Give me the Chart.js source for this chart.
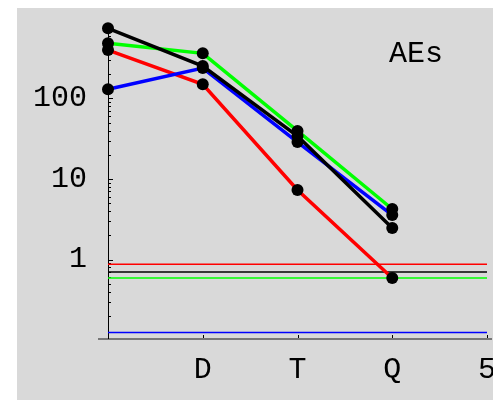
<!DOCTYPE html>
<html>
<head>
<meta charset="utf-8">
<script src="https://cdn.jsdelivr.net/npm/chart.js@4/dist/chart.umd.min.js"></script>
<style>
  html, body { margin: 0; padding: 0; background: #fff; }
  #wrap { position: absolute; left: 17px; top: 8px; width: 476px; height: 392px; background: #d9d9d9; }
</style>
</head>
<body>
<div id="wrap"><canvas id="c" width="476" height="392"></canvas></div>
<script>
// data
const stages = [1, 2, 3, 4];
const xTickValues = [2, 3, 4, 5];
const xTickLabels = ["D", "T", "Q", "5"];
const redValues = [400, 150, 7.3, 0.59];
const blueValues = [130, 239, 28.8, 3.57];
const greenValues = [485, 364, 39.5, 4.24];
const blackValues = [745, 253, 34.2, 2.46];
const refSpan = [1, 5];
const refRed = 0.871;
const refBlack = 0.70;
const refGreen = 0.589;
const refBlue = 0.124;
const yLabelValues = [1, 10, 100];
const panelLabel = "AEs";

const Y_MIN = 0.103;
const Y_MAX = 842;
const FONT = "'Liberation Mono', 'Courier New', monospace";

const toPoints = (xs, ys) => xs.map((x, i) => ({ x: x, y: ys[i] }));

function series(values, color, order) {
  return {
    data: toPoints(stages, values),
    borderColor: color,
    borderWidth: 3.5,
    pointRadius: 6,
    pointBackgroundColor: "#000",
    pointBorderWidth: 0,
    order: order,
  };
}

function refLine(value, color) {
  return {
    data: toPoints(refSpan, [value, value]),
    borderColor: color,
    borderWidth: 1.5,
    pointRadius: 0,
    order: 10,
  };
}

// log ticks 1..9 per decade, only inside the range
function logTicks() {
  const out = [];
  for (let e = -1; e <= 3; e++) {
    for (let m = 1; m <= 9; m++) {
      const v = m * Math.pow(10, e);
      if (v >= Y_MIN && v <= Y_MAX) out.push({ value: v });
    }
  }
  return out;
}

// axes drawn Mathematica-style: ticks point inward, x axis grey
const axesPlugin = {
  id: "axes",
  beforeDatasetsDraw(chart) {
    const { ctx, chartArea, scales } = chart;
    const x = scales.x, y = scales.y;
    ctx.save();
    ctx.strokeStyle = "#777";
    ctx.lineWidth = 2;
    ctx.beginPath();
    ctx.moveTo(chartArea.left - 10, chartArea.bottom);
    ctx.lineTo(chartArea.right + 5, chartArea.bottom);
    ctx.stroke();

    ctx.strokeStyle = "#000";
    ctx.lineWidth = 1;
    ctx.beginPath();
    ctx.moveTo(chartArea.left + 0.5, chartArea.top);
    ctx.lineTo(chartArea.left + 0.5, chartArea.bottom);
    ctx.stroke();

    y.ticks.forEach((t) => {
      const py = Math.round(y.getPixelForValue(t.value)) + 0.5;
      const major = yLabelValues.includes(t.value);
      ctx.beginPath();
      ctx.moveTo(chartArea.left, py);
      ctx.lineTo(chartArea.left + (major ? 5 : 3), py);
      ctx.stroke();
    });
    x.ticks.forEach((t) => {
      const px = Math.round(x.getPixelForValue(t.value)) + 0.5;
      ctx.beginPath();
      ctx.moveTo(px, chartArea.bottom - 1);
      ctx.lineTo(px, chartArea.bottom - 4);
      ctx.stroke();
    });
    ctx.restore();
  },
  afterDatasetsDraw(chart) {
    const { ctx, scales } = chart;
    ctx.save();
    ctx.fillStyle = "#000";
    ctx.font = "30px " + FONT;
    ctx.textAlign = "center";
    ctx.textBaseline = "middle";
    ctx.fillText(panelLabel, scales.x.getPixelForValue(4.25), scales.y.getPixelForValue(360));
    ctx.restore();
  },
};

new Chart(document.getElementById("c"), {
  type: "line",
  data: {
    datasets: [
      refLine(refRed, "#ff0000"),
      refLine(refBlack, "#000000"),
      refLine(refGreen, "#00ff00"),
      refLine(refBlue, "#0000ff"),
      series(redValues, "#ff0000", 4),
      series(blueValues, "#0000ff", 3),
      series(greenValues, "#00ff00", 2),
      series(blackValues, "#000000", 1),
    ],
  },
  options: {
    responsive: false,
    animation: false,
    layout: { padding: { top: 16, right: 5, left: 0, bottom: 0 } },
    plugins: { legend: { display: false }, tooltip: { enabled: false } },
    elements: { line: { tension: 0 } },
    clip: false,
    scales: {
      x: {
        type: "linear",
        min: 1,
        max: 5,
        grid: { display: false, drawTicks: false },
        border: { display: false },
        afterBuildTicks: (s) => { s.ticks = xTickValues.map((v) => ({ value: v })); },
        afterFit: (s) => { s.height = 61; s.paddingLeft = 0; s.paddingRight = 0; },
        ticks: {
          autoSkip: false,
          maxRotation: 0,
          padding: 13,
          color: "#000",
          font: { family: FONT, size: 30 },
          callback: (v) => xTickLabels[xTickValues.indexOf(v)],
        },
      },
      y: {
        type: "logarithmic",
        min: Y_MIN,
        max: Y_MAX,
        grid: { display: false, drawTicks: false },
        border: { display: false },
        afterBuildTicks: (s) => { s.ticks = logTicks(); },
        afterFit: (s) => { s.width = 91; s.paddingTop = 0; s.paddingBottom = 0; },
        ticks: {
          autoSkip: false,
          padding: 21,
          color: "#000",
          font: { family: FONT, size: 30 },
          callback: (v) => (yLabelValues.includes(v) ? String(v) : ""),
        },
      },
    },
  },
  plugins: [axesPlugin],
});
</script>
</body>
</html>
